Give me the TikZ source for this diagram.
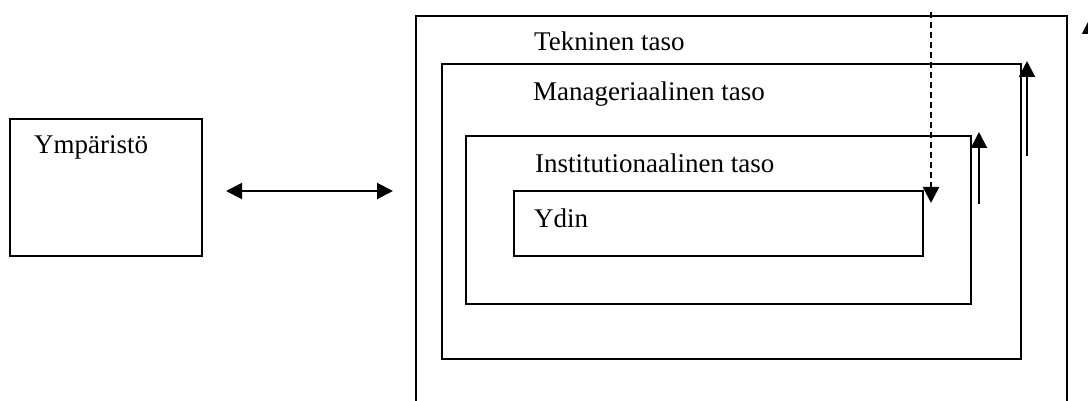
\documentclass[tikz,border=0pt]{standalone}
\usepackage{fontspec}
\setmainfont{Liberation Serif}
\usetikzlibrary{arrows.meta}
\begin{document}
\begin{tikzpicture}[x=1pt,y=-1pt,
  frame/.style={draw=black,line width=2pt,rectangle,inner sep=0pt,anchor=north west},
  lbl/.style={anchor=base west,inner sep=0pt,font=\fontsize{27}{32}\selectfont},
  head/.tip={Triangle[width=16pt,length=16pt]},
  tip/.style={-head,line width=2pt},
  dtip/.style={head-head,line width=2pt}]
  \useasboundingbox (0,0) rectangle (1088,401);
  \begin{scope}
    \clip (0,0) rectangle (1088,401);
    % environment box
    \node[frame,minimum width=192pt,minimum height=137pt] (env) at (9,118) {};
    \node[lbl] (envtxt) at (34,154) {Ympäristö};
    % nested levels of the organisation
    \node[frame,minimum width=651pt,minimum height=420pt] (tech) at (415,15) {};
    \node[frame,minimum width=579pt,minimum height=295pt] (man) at (441,63) {};
    \node[frame,minimum width=505pt,minimum height=168pt] (inst) at (465,135) {};
    \node[frame,minimum width=409pt,minimum height=65pt] (core) at (513,190) {};
    \node[lbl] (techtxt) at (534,51) {Tekninen taso};
    \node[lbl] (mantxt) at (533,101) {Manageriaalinen taso};
    \node[lbl] (insttxt) at (535,173) {Institutionaalinen taso};
    \node[lbl] (coretxt) at (534,227) {Ydin};
    % interaction between environment and organisation
    \coordinate (exL) at (226,191);
    \coordinate (exR) at (393,191);
    \draw[dtip] (exL) -- (exR);
    % downward influence to the core
    \coordinate (dtop) at (931,12);
    \coordinate (dbot) at (931,203);
    \draw[tip,line width=2.4pt,dash pattern=on 6pt off 4pt] (dtop) -- (dbot);
    % upward arrows beside the levels
    \coordinate (a1s) at (979,204);
    \coordinate (a1e) at (979,132);
    \draw[tip] (a1s) -- (a1e);
    \coordinate (a2s) at (1027,156);
    \coordinate (a2e) at (1027,61);
    \draw[tip] (a2s) -- (a2e);
    \coordinate (a3s) at (1090,110);
    \coordinate (a3e) at (1090,18);
    \draw[tip] (a3s) -- (a3e);
  \end{scope}
\end{tikzpicture}
\end{document}
